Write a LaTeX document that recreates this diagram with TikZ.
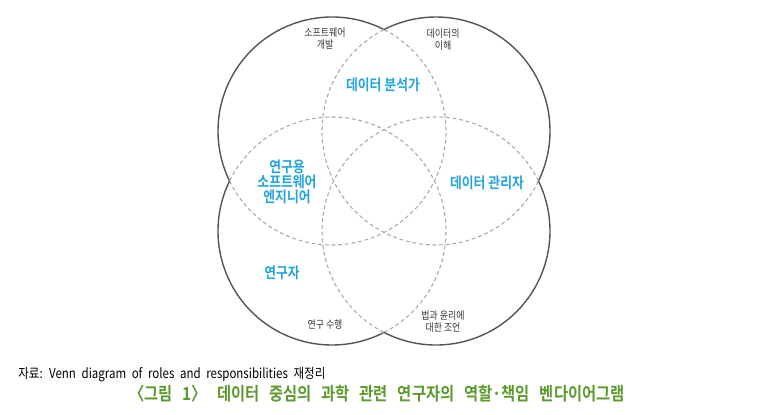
\documentclass[tikz,border=0pt]{standalone}
\usepackage{fontspec}
\newfontfamily\kfont[FakeStretch=0.85]{Noto Sans CJK KR}
\newfontfamily\kfontb[FakeStretch=0.85,BoldFont={Noto Sans CJK KR Bold}]{Noto Sans CJK KR Medium}
\definecolor{rolecol}{HTML}{22A4DD}
\definecolor{titlecol}{HTML}{5C9A2E}
\definecolor{linecol}{HTML}{555555}
\definecolor{dashcol}{HTML}{A8A8A8}

\begin{document}
\begin{tikzpicture}[x=0.02cm, y=0.02cm,
	outline/.style={linecol, line width=0.8pt},
	inner/.style={dashcol, line width=0.6pt, dash pattern=on 2.2pt off 1.6pt},
	small/.style={text=black!80, align=center, inner sep=0pt, font=\kfont\fontsize{6}{6.8}\selectfont},
	role/.style={text=rolecol, align=center, inner sep=0pt, font=\kfontb\bfseries\fontsize{8.6}{8.6}\selectfont}]
	\useasboundingbox (0,0) rectangle (773,414);
	
	%circles
	\foreach \cx/\cy/\a/\b/\c in {332/283/62.86/206.02/422.86, 436/283/-26.02/117.14/333.98, 332/183/153.98/297.14/513.98, 436/183/242.86/386.02/602.86}{
		\draw[outline] (\cx,\cy) ++(\a:114) arc[start angle=\a, end angle=\b, radius=114];
		\draw[inner] (\cx,\cy) ++(\b:114) arc[start angle=\b, end angle=\c, radius=114];
	}
	
	%skills
	\node[small] (swdev) at (325,375) {소프트웨어\\개발};
	\node[small] (dataund) at (443,374) {데이터의\\이해};
	\node[small] (conduct) at (325,89) {연구 수행};
	\node[small] (advice) at (443,92) {법과 윤리에\\대한 조언};
	
	%roles
	\node[role] (analyst) at (383,329) {데이터 분석가};
	\node[role] (rse) at (287,232) {연구용\\소프트웨어\\엔지니어};
	\node[role] (steward) at (487,231) {데이터 관리자};
	\node[role] (researcher) at (282,141) {연구자};
	
	%caption
	\node[anchor=west, inner sep=0pt, font=\kfont\fontsize{7.7}{7.7}\selectfont] (source) at (18,39) {\spaceskip=3.2pt\relax 자료: Venn diagram of roles and responsibilities 재정리};
	\node[text=titlecol, inner sep=0pt, font=\kfontb\bfseries\fontsize{10.3}{10.3}\selectfont] (title) at (377,20) {\spaceskip=5.6pt\relax 〈그림 1〉 데이터 중심의 과학 관련 연구자의 역할·책임 벤다이어그램};
\end{tikzpicture}
\end{document}
